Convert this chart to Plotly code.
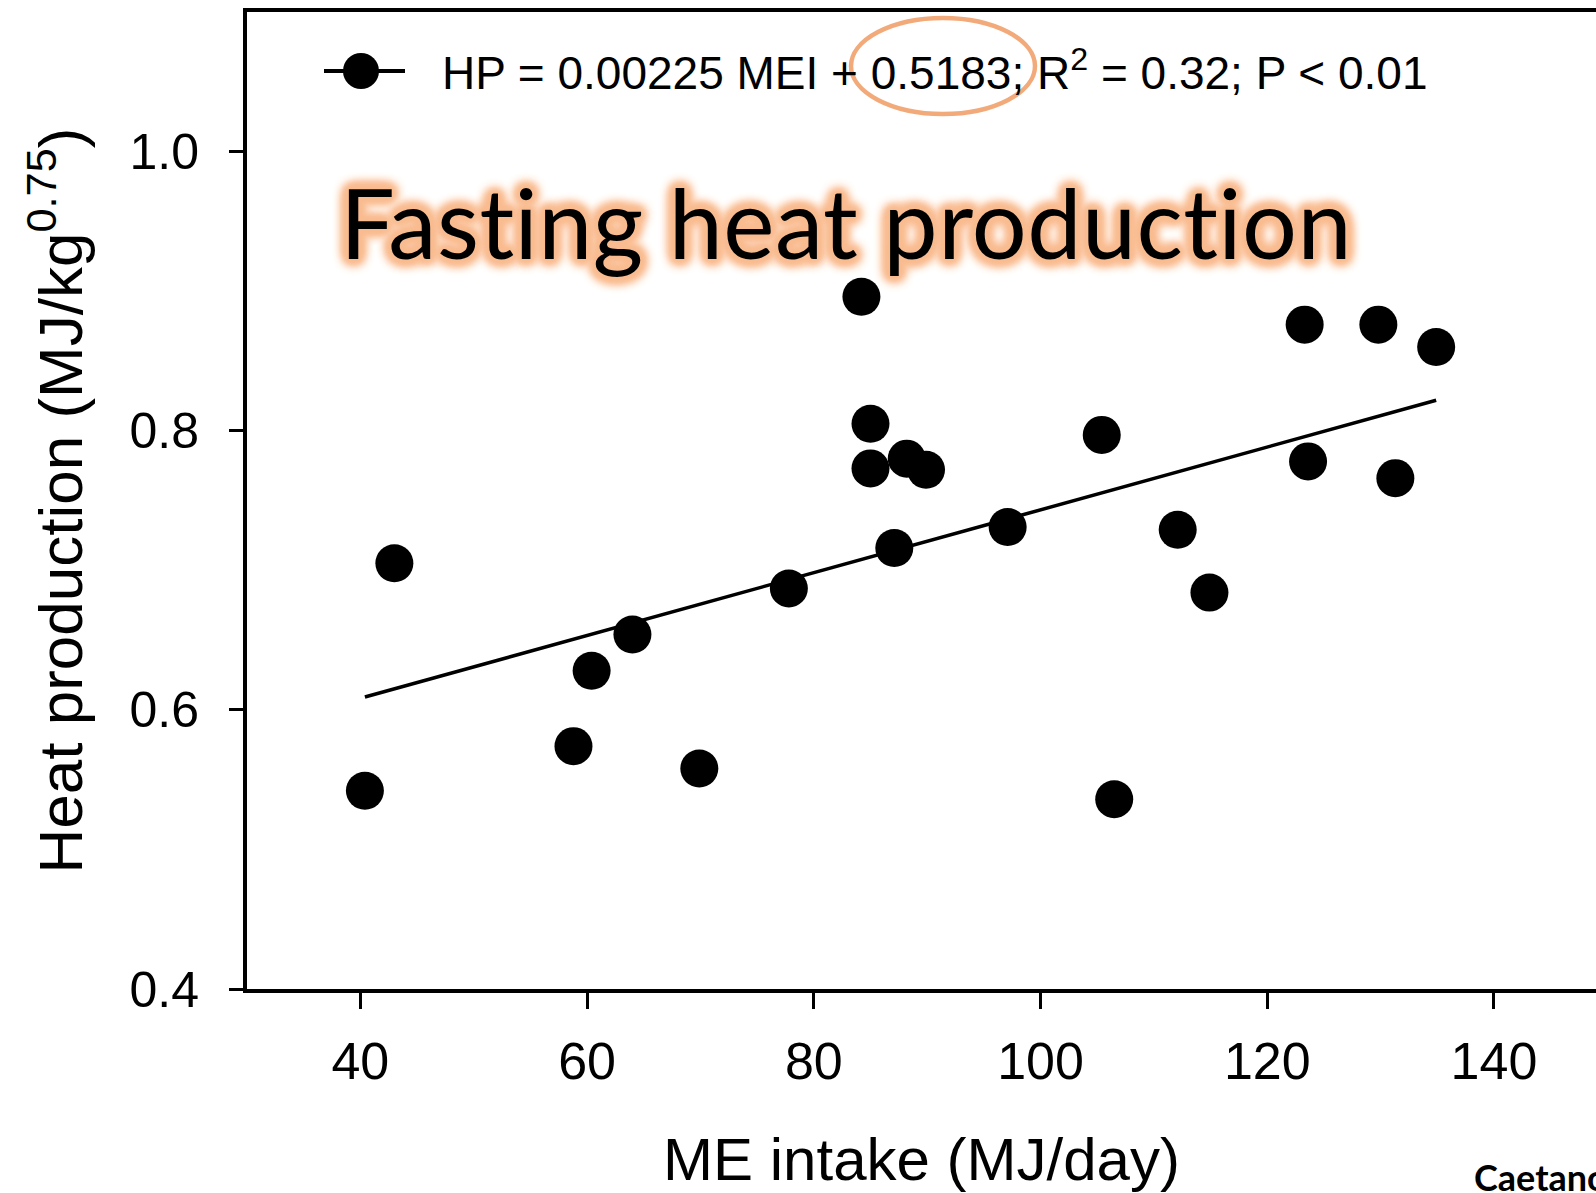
import plotly.graph_objects as go

# ---- data ----
me_intake = [40.4, 43.0, 58.8, 60.4, 64.0, 69.9, 77.8, 84.2, 85.0, 85.0, 87.1, 88.2, 89.9,
             97.1, 105.4, 106.5, 112.1, 114.9, 123.3, 123.6, 129.8, 131.3, 134.9]
heat_prod = [0.542, 0.705, 0.574, 0.628, 0.654, 0.558, 0.687, 0.896, 0.805, 0.773, 0.716, 0.780, 0.772,
             0.731, 0.797, 0.536, 0.729, 0.684, 0.876, 0.778, 0.876, 0.766, 0.860]
slope = 0.00225
intercept = 0.5183
x_ticks = [40, 60, 80, 100, 120, 140]
y_ticks = [0.4, 0.6, 0.8, 1.0]

W, H = 1596, 1193
ML, MR, MT, MB = 247, 0, 12, 204

def px(x):
    return (x - ML) / (W - ML - MR)

def py(y):
    return (H - MB - y) / (H - MB - MT)

fit_x = [min(me_intake), max(me_intake)]
fit_y = [slope * v + intercept for v in fit_x]

fig = go.Figure()
fig.add_trace(go.Scatter(x=fit_x, y=fit_y, mode="lines",
                         line=dict(color="black", width=3.5), showlegend=False, hoverinfo="skip"))
fig.add_trace(go.Scatter(x=me_intake, y=heat_prod, mode="markers",
                         marker=dict(color="black", size=38, line=dict(width=0)), showlegend=False))

font_main = "Liberation Sans, Arial, sans-serif"

fig.update_layout(
    width=W, height=H,
    margin=dict(l=ML, r=MR, t=MT, b=MB, pad=0),
    paper_bgcolor="white", plot_bgcolor="white",
    font=dict(family=font_main, color="black"),
    xaxis=dict(range=[30, 149], tickvals=x_ticks, ticktext=[str(v) for v in x_ticks],
               showgrid=False, zeroline=False, showline=True, linecolor="black", linewidth=4,
               mirror=True, ticks="outside", ticklen=16, tickwidth=3, tickcolor="black",
               tickfont=dict(size=52, family=font_main), ticklabelstandoff=8,
               title=dict(text="ME intake (MJ/day)", font=dict(size=60, family=font_main), standoff=52)),
    yaxis=dict(range=[0.4, 1.1], tickvals=y_ticks, ticktext=["0.4", "0.6", "0.8", "1.0"],
               showgrid=False, zeroline=False, showline=True, linecolor="black", linewidth=4,
               ticks="outside", ticklen=14, tickwidth=3, tickcolor="black",
               tickfont=dict(size=50, family=font_main), ticklabelstandoff=20,
               title=dict(text="Heat production (MJ/kg<sup>0.75</sup>)", font=dict(size=62, family=font_main), standoff=28)),
)

# custom legend entry
fig.add_shape(type="line", xref="paper", yref="paper", x0=px(324), x1=px(405), y0=py(71), y1=py(71),
              line=dict(color="black", width=4))
fig.add_shape(type="circle", xref="paper", yref="paper", x0=px(343), x1=px(379), y0=py(53), y1=py(89),
              fillcolor="black", line=dict(color="black", width=0))
fig.add_annotation(xref="paper", yref="paper", x=px(440), y=py(70), xanchor="left", yanchor="middle",
                   text="HP = 0.00225 MEI + 0.5183; R<sup>2</sup> = 0.32; P < 0.01", showarrow=False,
                   font=dict(size=46, family=font_main, color="black"))
# orange highlight ellipse
fig.add_shape(type="circle", xref="paper", yref="paper", x0=px(851), x1=px(1035), y0=py(18), y1=py(114),
              line=dict(color="#F2AA7A", width=4.5))

# big overlay title with a thick peach glow
c1, c2 = "#F9BC90", "#FBCDAE"
offs = [(4, 0), (-4, 0), (0, 4), (0, -4), (3, 3), (-3, 3), (3, -3), (-3, -3)]
glow = ", ".join(f"{dx}px {dy}px 6px {c1}" for dx, dy in offs)
glow += ", " + ", ".join(f"{2*dx}px {2*dy}px 10px {c2}" for dx, dy in offs)
title_text = '<span style="letter-spacing:0.4px">Fasting heat production</span>'
fig.add_annotation(xref="paper", yref="paper", x=px(846), y=py(221), xanchor="center", yanchor="middle",
                   text=title_text, showarrow=False,
                   font=dict(size=97, family="Lato, sans-serif", color="black", shadow=glow))
# source
fig.add_annotation(xref="paper", yref="paper", x=px(1472), y=py(1177), xanchor="left", yanchor="middle",
                   text="<b>Caetano et al.</b>", showarrow=False,
                   font=dict(size=36, family="Lato, sans-serif", color="black"))

fig.write_html("out.html")
